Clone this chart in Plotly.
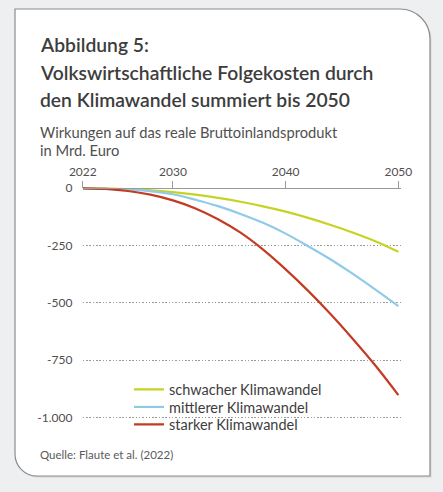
import plotly.graph_objects as go

W, H = 443, 492

years = [2022, 2024, 2026, 2028, 2030, 2032, 2034, 2036, 2038, 2040, 2042, 2044, 2046, 2048, 2050]
schwach = [0, -1, -4, -9, -17, -28, -42, -59, -79, -102, -129, -160, -194, -232, -277]
mittel = [0, -1, -5, -13, -26, -50, -78, -112, -151, -198, -253, -311, -375, -444, -515]
stark = [0, -3, -12, -28, -53, -88, -135, -194, -268, -354, -448, -550, -660, -776, -903]

series_names = ["schwacher Klimawandel", "mittlerer Klimawandel", "starker Klimawandel"]
series_colors = ["#c6d324", "#8fcbe7", "#c33b22"]

x_tickvals = [2022, 2030, 2040, 2050]
x_ticktext = ["2022", "2030", "2040", "2050"]
y_tickvals = [0, -250, -500, -750, -1000]
y_ticktext = ["0", "-250", "-500", "-750", "-1.000"]

title_lines = ["Abbildung 5:", "Volkswirtschaftliche Folgekosten durch", "den Klimawandel summiert bis 2050"]
subtitle_lines = ["Wirkungen auf das reale Bruttoinlandsprodukt", "in Mrd. Euro"]
source_text = "Quelle: Flaute et al. (2022)"


def px(x):
    return x / W


def py(y):
    return 1 - y / H


def card_path(x0, y0, x1, y1, r_tr, r_bl):
    k = 0.5523
    pts = []
    pts.append("M %.5f,%.5f" % (px(x0), py(y0)))
    pts.append("L %.5f,%.5f" % (px(x1 - r_tr), py(y0)))
    pts.append("C %.5f,%.5f %.5f,%.5f %.5f,%.5f" % (
        px(x1 - r_tr + k * r_tr), py(y0), px(x1), py(y0 + r_tr - k * r_tr), px(x1), py(y0 + r_tr)))
    pts.append("L %.5f,%.5f" % (px(x1), py(y1)))
    pts.append("L %.5f,%.5f" % (px(x0 + r_bl), py(y1)))
    pts.append("C %.5f,%.5f %.5f,%.5f %.5f,%.5f" % (
        px(x0 + r_bl - k * r_bl), py(y1), px(x0), py(y1 - r_bl + k * r_bl), px(x0), py(y1 - r_bl)))
    pts.append("Z")
    return " ".join(pts)


FONT = "Lato"
legend_ids = ["legend", "legend2", "legend3"]
legend_rows = [389.5, 407, 424.5]

fig = go.Figure()
for name, vals, col, lid in zip(series_names, [schwach, mittel, stark], series_colors, legend_ids):
    fig.add_trace(go.Scatter(
        x=years, y=vals, name=name, mode="lines", legend=lid,
        line=dict(color=col, width=2.2, shape="spline", smoothing=1.0),
        hoverinfo="skip",
    ))

shapes = [
    dict(type="path", xref="paper", yref="paper", layer="below",
         path=card_path(16.5, 10.5, 431.5, 477.5, 30, 22),
         fillcolor="#d6d8da", line=dict(width=0)),
    dict(type="path", xref="paper", yref="paper", layer="below",
         path=card_path(15, 9, 430, 476, 30, 22),
         fillcolor="#ffffff", line=dict(color="#8c8c8c", width=1.2)),
    # white backing behind the legend block (hides the gridline there)
    dict(type="rect", xref="paper", yref="paper", layer="between",
         x0=px(131), x1=px(318), y0=py(412), y1=py(422),
         fillcolor="#ffffff", line=dict(width=0)),
]

annotations = []
title_y = [44.5, 72, 99.5]
for t, yy in zip(title_lines, title_y):
    annotations.append(dict(text=t, xref="paper", yref="paper", x=px(38), y=py(yy),
                            xanchor="left", yanchor="middle", showarrow=False,
                            font=dict(family=FONT, size=19.3, color="#3d3d3d", weight=600)))
sub_y = [132, 149.5]
for t, yy in zip(subtitle_lines, sub_y):
    annotations.append(dict(text=t, xref="paper", yref="paper", x=px(38), y=py(yy),
                            xanchor="left", yanchor="middle", showarrow=False,
                            font=dict(family=FONT, size=14.7, color="#505050")))
annotations.append(dict(text=source_text, xref="paper", yref="paper", x=px(38), y=py(454),
                        xanchor="left", yanchor="middle", showarrow=False,
                        font=dict(family=FONT, size=11.5, color="#5a5a5a")))

legend_layout = {}
for lid, row in zip(legend_ids, legend_rows):
    legend_layout[lid] = dict(x=px(129), y=py(row), xanchor="left", yanchor="middle",
                              bgcolor="rgba(0,0,0,0)", borderwidth=0,
                              font=dict(family=FONT, size=14.5, color="#3d3d3d"),
                              itemwidth=30, tracegroupgap=0)

fig.update_layout(
    width=W, height=H,
    margin=dict(l=0, r=0, t=0, b=0, autoexpand=False),
    paper_bgcolor="#edeff1",
    plot_bgcolor="rgba(0,0,0,0)",
    showlegend=True,
    xaxis=dict(range=[2022, 2050.2], domain=[px(82.8), px(400.6)],
               anchor="free", position=py(188.3), side="top", automargin=False,
               tickvals=x_tickvals, ticktext=x_ticktext,
               showline=True, linecolor="#9a9a9a", linewidth=1.2,
               ticks="outside", ticklen=7, tickwidth=1.2, tickcolor="#9a9a9a",
               showgrid=False, zeroline=False,
               tickfont=dict(family=FONT, size=12, color="#505050")),
    yaxis=dict(range=[-1050, 20], domain=[py(428.75), py(183.7)], automargin=False,
               tickvals=y_tickvals, ticktext=y_ticktext,
               showline=False, zeroline=False,
               showgrid=True, griddash="1.5px,1.8px", gridcolor="#9a9a9a", gridwidth=1.3,
               ticks="outside", ticklen=7, tickcolor="rgba(0,0,0,0)",
               tickfont=dict(family=FONT, size=12, color="#505050")),
    shapes=shapes,
    annotations=annotations,
    **legend_layout,
)

fig.write_html("out.html", config={"displayModeBar": False},
               post_script="document.body.style.margin='0';document.body.style.overflow='hidden';")
